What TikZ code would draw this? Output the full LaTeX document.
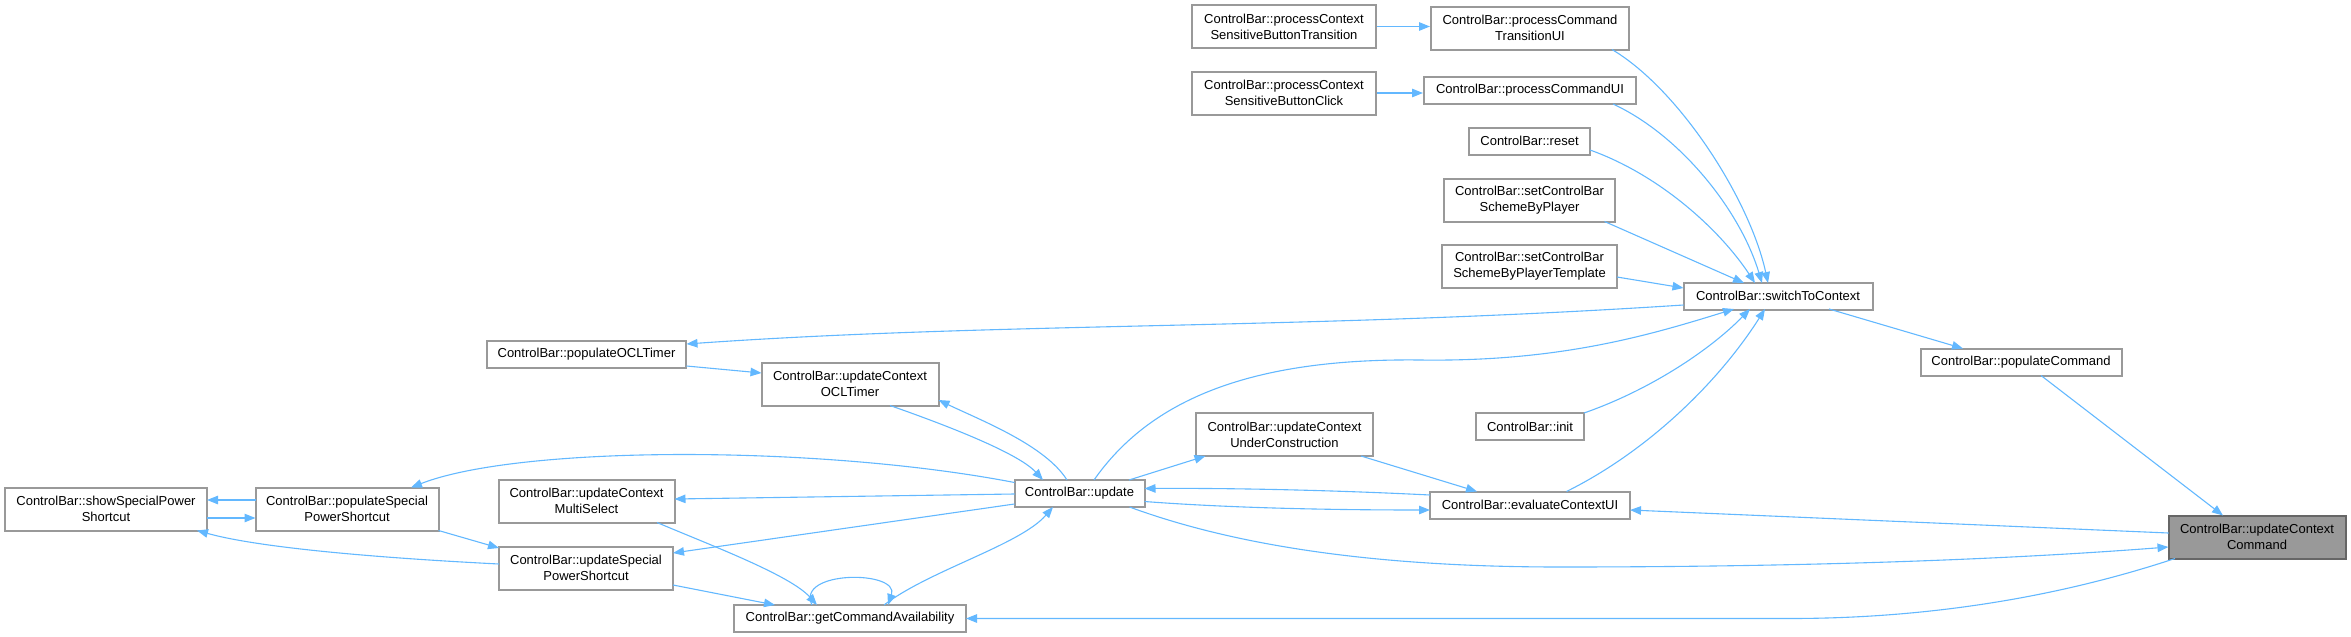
\documentclass[tikz,border=0pt]{standalone}
\usepackage{fontspec}
\setmainfont{Liberation Sans}
\usetikzlibrary{arrows.meta,calc}
\definecolor{edgec}{HTML}{63B8FF}
\definecolor{boxc}{HTML}{999999}
\definecolor{focusb}{HTML}{666666}
\begin{document}
\begin{tikzpicture}[x=1pt,y=-1pt,
  box/.style={draw=boxc, line width=2pt, fill=white, inner sep=0pt, align=center, font=\fontsize{13}{16}\selectfont},
  focus/.style={box, draw=focusb, fill=boxc},
  e/.style={draw=edgec, line width=1.1pt, -{Triangle[length=11pt,width=8.5pt]}}]
\useasboundingbox (0,0) rectangle (2351,637);

\node[box, minimum width=184pt, minimum height=43pt] (pcsbt) at (1284,26.5) {ControlBar::processContext\\SensitiveButtonTransition};
\node[box, minimum width=198pt, minimum height=43pt] (pctui) at (1530,28) {ControlBar::processCommand\\TransitionUI};
\node[box, minimum width=184pt, minimum height=43pt] (pcsbc) at (1284,93) {ControlBar::processContext\\SensitiveButtonClick};
\node[box, minimum width=212pt, minimum height=27pt] (pcui) at (1530,90.5) {ControlBar::processCommandUI};
\node[box, minimum width=121pt, minimum height=27pt] (reset) at (1529.5,141) {ControlBar::reset};
\node[box, minimum width=171pt, minimum height=43pt] (scbp) at (1529.5,200) {ControlBar::setControlBar\\SchemeByPlayer};
\node[box, minimum width=175pt, minimum height=43pt] (scbpt) at (1529.5,266.5) {ControlBar::setControlBar\\SchemeByPlayerTemplate};
\node[box, minimum width=189pt, minimum height=27pt] (stc) at (1778,296) {ControlBar::switchToContext};
\node[box, minimum width=201pt, minimum height=27pt] (pc) at (2021,362) {ControlBar::populateCommand};
\node[focus, minimum width=177pt, minimum height=43pt] (ucc) at (2257,537) {ControlBar::updateContext\\Command};
\node[box, minimum width=199pt, minimum height=27pt] (pocl) at (586.5,354.5) {ControlBar::populateOCLTimer};
\node[box, minimum width=177pt, minimum height=43pt] (ucocl) at (850,384) {ControlBar::updateContext\\OCLTimer};
\node[box, minimum width=130pt, minimum height=27pt] (upd) at (1079.5,493.5) {ControlBar::update};
\node[box, minimum width=177pt, minimum height=43pt] (ucuc) at (1284.5,434.5) {ControlBar::updateContext\\UnderConstruction};
\node[box, minimum width=108pt, minimum height=27pt] (init) at (1530,426.5) {ControlBar::init};
\node[box, minimum width=200pt, minimum height=27pt] (ecui) at (1530,505) {ControlBar::evaluateContextUI};
\node[box, minimum width=202pt, minimum height=43pt] (sspsc) at (106,509) {ControlBar::showSpecialPower\\Shortcut};
\node[box, minimum width=183pt, minimum height=43pt] (pspsc) at (347,509) {ControlBar::populateSpecial\\PowerShortcut};
\node[box, minimum width=176pt, minimum height=43pt] (ucms) at (586.5,501) {ControlBar::updateContext\\MultiSelect};
\node[box, minimum width=174pt, minimum height=43pt] (uspsc) at (586,568) {ControlBar::updateSpecial\\PowerShortcut};
\node[box, minimum width=232pt, minimum height=27pt] (gca) at (850,618.5) {ControlBar::getCommandAvailability};

\draw[e] (pcsbt.east) -- (pcsbt.east -| pctui.west);
\draw[e] (pcsbc.east) -- (pcsbc.east -| pcui.west);
\draw[e] ($(pctui)+(82,21.5)$) .. controls (1680,90) and (1750,200) .. ($(stc)+(-10,-13)$);
\draw[e] ($(pcui)+(83,13.5)$) .. controls (1680,135) and (1740,210) .. ($(stc)+(-16,-13)$);
\draw[e] ($(reset)+(60.5,9)$) .. controls (1660,175) and (1720,230) .. ($(stc)+(-23,-13)$);
\draw[e] ($(scbp)+(75,21.5)$) -- ($(stc)+(-34,-13)$);
\draw[e] ($(scbpt)+(87.5,10.5)$) -- ($(stc)+(-94.5,-8)$);
\draw[e] ($(stc)+(-94.5,9)$) .. controls (1300,330) and (1000,322) .. ($(pocl)+(100,-10.5)$);
\draw[e] ($(pocl)+(100,11.5)$) -- ($(ucocl)+(-88.5,-11)$);
\draw[e] ($(ucocl)+(40,21.5)$) .. controls (960,430) and (1020,455) .. ($(upd)+(-36.5,-13.5)$);
\draw[e] ($(upd)+(-12.5,-13.5)$) .. controls (1045,445) and (980,420) .. ($(ucocl)+(88.5,16)$);
\draw[e] ($(upd)+(-65,-11)$) .. controls (820,445) and (520,445) .. ($(pspsc)+(64,-21.5)$);
\draw[e] ($(upd)+(-65,0.5)$) -- ($(ucms)+(88,-2)$);
\draw[e] ($(upd)+(-65,10.5)$) -- ($(uspsc)+(87,-15)$);
\draw[e] ($(gca)+(34,-13.5)$) .. controls (930,570) and (1020,545) .. ($(upd)+(-26.5,13.5)$);
\draw[e] ($(ucms)+(70.5,21.5)$) .. controls (710,545) and (790,575) .. ($(gca)+(-33,-13.5)$);
\draw[e] ($(gca)+(-38,-13.5)$) .. controls (795,570) and (900,570) .. ($(gca)+(38,-13.5)$);
\draw[e] ($(uspsc)+(87,17)$) -- ($(gca)+(-75,-13.5)$);
\draw[e] ($(pspsc)+(91.5,21.5)$) -- ($(uspsc)+(-87,-20)$);
\draw[e] ($(pspsc)+(-91.5,-9)$) -- ($(sspsc)+(101,-9)$);
\draw[e] ($(sspsc)+(101,9)$) -- ($(pspsc)+(-91.5,9)$);
\draw[e] ($(uspsc)+(-87,-4)$) .. controls (380,558) and (260,548) .. ($(sspsc)+(91,21.5)$);
\draw[e] ($(stc)+(51,13)$) -- ($(pc)+(-58,-13.5)$);
\draw[e] ($(pc)+(20,13.5)$) -- ($(ucc)+(-34,-21.5)$);
\draw[e] ($(ucc)+(-88.5,-4)$) -- ($(ecui)+(100,5)$);
\draw[e] ($(upd)+(50,13.5)$) .. controls (1260,555) and (1420,567) .. (1560,567) .. controls (1800,567) and (2000,560) .. ($(ucc)+(-88.5,10)$);
\draw[e] ($(ucc)+(-82,21.5)$) .. controls (2080,590) and (1950,618.5) .. (1790,618.5) -- ($(gca)+(116,0)$);
\draw[e] ($(ecui)+(-100,-10)$) .. controls (1330,490) and (1230,488) .. ($(upd)+(65,-5)$);
\draw[e] ($(upd)+(65,8)$) .. controls (1230,508) and (1330,510) .. ($(ecui)+(-100,5)$);
\draw[e] ($(upd)+(49.5,-13.5)$) -- ($(ucuc)+(-79,21.5)$);
\draw[e] ($(ucuc)+(76.5,21.5)$) -- ($(ecui)+(-53,-13.5)$);
\draw[e] ($(upd)+(14.5,-13.5)$) .. controls (1150,400) and (1250,358) .. (1420,360) .. controls (1560,362) and (1650,335) .. ($(stc)+(-44,13)$);
\draw[e] ($(init)+(54,-13.5)$) .. controls (1650,390) and (1710,350) .. ($(stc)+(-28,13)$);
\draw[e] ($(ecui)+(36.5,-13.5)$) .. controls (1650,450) and (1720,380) .. ($(stc)+(-13,13)$);
\end{tikzpicture}
\end{document}
